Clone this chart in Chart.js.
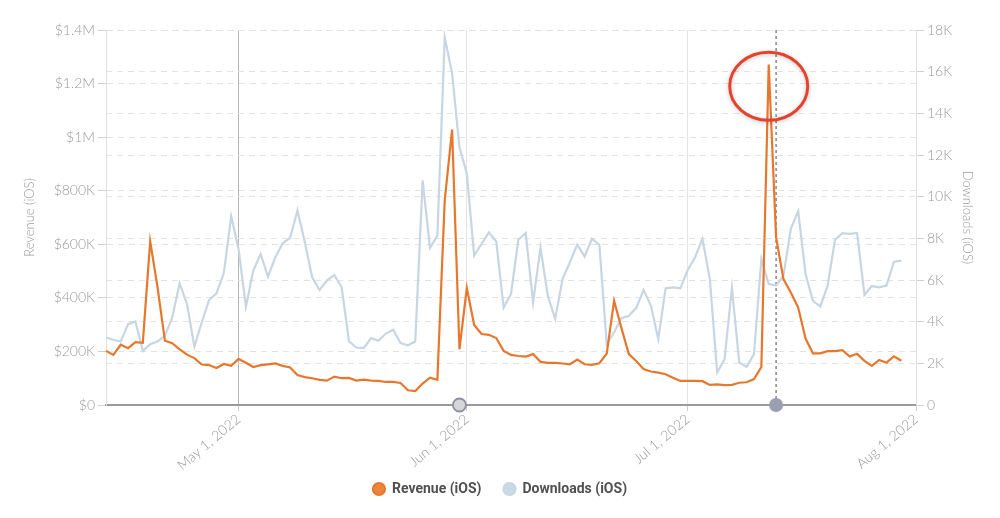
<!DOCTYPE html>
<html>
<head>
<meta charset="utf-8">
<script src="https://cdn.jsdelivr.net/npm/chart.js@4.4.0/dist/chart.umd.min.js"></script>
<style>
    html, body { margin: 0; padding: 0; background: #fff; }
    #wrap { width: 1000px; height: 518px; }
</style>
</head>
<body>
<div id="wrap"><canvas id="appChart"></canvas></div>
<script>
// Daily values, Apr 13 2022 .. Jul 30 2022
const revenue = [
    202000, 187000, 225000, 212000, 235000, 232000, 611000, 439000, 240000, 231000,
    208000, 188000, 175000, 151000, 149000, 138000, 153000, 146000, 172000, 158000,
    142000, 149000, 152000, 155000, 146000, 140000, 112000, 104000, 100000, 94000,
    91000, 106000, 100000, 101000, 91000, 95000, 91000, 90000, 86000, 86000,
    82000, 55000, 52000, 80000, 102000, 94000, 764000, 1028000, 208000, 437000,
    299000, 265000, 262000, 250000, 202000, 187000, 183000, 181000, 190000, 161000,
    157000, 157000, 155000, 152000, 170000, 152000, 150000, 156000, 192000, 389000,
    287000, 190000, 164000, 134000, 125000, 121000, 115000, 102000, 90000, 90000,
    90000, 89000, 75000, 77000, 74000, 75000, 83000, 85000, 97000, 142000,
    1271000, 626000, 470000, 420000, 364000, 248000, 193000, 193000, 201000, 201000,
    205000, 181000, 191000, 165000, 146000, 168000, 158000, 182000, 165000
];
const downloads = [
    3240, 3130, 3050, 3880, 4010, 2600, 2920, 3050, 3320, 4200,
    5840, 4850, 2810, 3960, 5040, 5360, 6320, 9060, 7490, 4720,
    6450, 7250, 6160, 7090, 7760, 8020, 9340, 7810, 6130, 5520,
    5970, 6240, 5650, 3050, 2760, 2730, 3210, 3080, 3430, 3610,
    2970, 2870, 3050, 10780, 7540, 8130, 17650, 15920, 12380, 11100,
    7170, 7730, 8290, 7850, 4680, 5330, 7930, 8250, 4920, 7540,
    5250, 4130, 6050, 6850, 7700, 7120, 7980, 7690, 2920, 3480,
    4170, 4280, 4650, 5520, 4770, 3160, 5600, 5650, 5600, 6480,
    7090, 7980, 6050, 1560, 2200, 5620, 2040, 1830, 2440, 7010,
    5810, 5730, 6210, 8460, 9300, 6290, 5000, 4730, 5730, 7930,
    8250, 8210, 8260, 5280, 5710, 5650, 5730, 6880, 6930
];
const monthTicks = ['May 1, 2022', 'Jun 1, 2022', 'Jul 1, 2022', 'Aug 1, 2022'];
const revenueTicks = [0, 200000, 400000, 600000, 800000, 1000000, 1200000, 1400000];
const downloadTicks = [0, 2000, 4000, 6000, 8000, 10000, 12000, 14000, 16000, 18000];

// Day labels for the x axis (axis runs to Aug 1)
const monthNames = ['Jan', 'Feb', 'Mar', 'Apr', 'May', 'Jun', 'Jul', 'Aug', 'Sep', 'Oct', 'Nov', 'Dec'];
const days = [];
for (let d = new Date(Date.UTC(2022, 3, 13)); d <= new Date(Date.UTC(2022, 7, 1)); d.setUTCDate(d.getUTCDate() + 1)) {
    days.push(monthNames[d.getUTCMonth()] + ' ' + d.getUTCDate() + ', ' + d.getUTCFullYear());
}

const selectedDay = 'Jul 13, 2022';
const markedDay = 'May 31, 2022';
const peakDay = 'Jul 12, 2022';

const thinFont = "'Lato', 'Open Sans', sans-serif";
const boldFont = "'Roboto', 'Liberation Sans', sans-serif";

function fmtMoney(v) {
    if (v === 0) return '$0';
    if (v >= 1000000) return '$' + (v / 1000000) + 'M';
    return '$' + (v / 1000) + 'K';
}

// Crosshair, markers and the red circle round the peak
const markers = {
    id: 'markers',
    afterLayout(chart) {
        // pull the legend up a little, keeping its item spacing
        chart.legend.top -= 11;
        chart.legend.bottom -= 11;
    },
    beforeDatasetsDraw(chart) {
        const ctx = chart.ctx, area = chart.chartArea;
        const x = chart.scales.x.getPixelForValue(days.indexOf(selectedDay));
        ctx.save();
        ctx.strokeStyle = '#777';
        ctx.lineWidth = 1.3;
        ctx.setLineDash([3, 3]);
        ctx.beginPath();
        ctx.moveTo(x, area.top);
        ctx.lineTo(x, area.bottom);
        ctx.stroke();
        ctx.restore();
    },
    afterDraw(chart) {
        const ctx = chart.ctx, area = chart.chartArea;
        const xs = chart.scales.x, ys = chart.scales.y;
        ctx.save();
        // dot under the selected day
        ctx.beginPath();
        ctx.arc(xs.getPixelForValue(days.indexOf(selectedDay)), area.bottom, 7, 0, Math.PI * 2);
        ctx.fillStyle = '#9a9fb1';
        ctx.fill();
        // marker under end of May
        ctx.beginPath();
        ctx.arc(xs.getPixelForValue(days.indexOf(markedDay)), area.bottom, 6.5, 0, Math.PI * 2);
        ctx.fillStyle = '#d6d6d6';
        ctx.fill();
        ctx.lineWidth = 1.8;
        ctx.strokeStyle = '#8d90a0';
        ctx.stroke();
        // red ellipse
        const ex = xs.getPixelForValue(days.indexOf(peakDay));
        const ey = ys.getPixelForValue(1190000);
        ctx.shadowColor = 'rgba(0,0,0,0.25)';
        ctx.shadowBlur = 4;
        ctx.shadowOffsetY = 1;
        ctx.beginPath();
        ctx.ellipse(ex, ey, 39, 34, 0, 0, Math.PI * 2);
        ctx.strokeStyle = '#e5412b';
        ctx.lineWidth = 3;
        ctx.stroke();
        ctx.restore();
    }
};

function isMonthStart(i) {
    return monthTicks.includes(days[i]);
}

const ctx = document.getElementById('appChart');
new Chart(ctx, {
    type: 'line',
    data: {
        labels: days,
        datasets: [
            {
                label: 'Revenue (iOS)',
                data: revenue,
                yAxisID: 'y',
                borderColor: '#e8772e',
                backgroundColor: '#e8873c',
                borderWidth: 2.2,
                pointRadius: 0,
                tension: 0
            },
            {
                label: 'Downloads (iOS)',
                data: downloads,
                yAxisID: 'y2',
                borderColor: '#c8d6e3',
                backgroundColor: '#ccd9e5',
                borderWidth: 2.2,
                pointRadius: 0,
                tension: 0
            }
        ]
    },
    options: {
        responsive: true,
        maintainAspectRatio: false,
        animation: false,
        layout: { padding: { top: 30, bottom: 1 } },
        plugins: {
            legend: {
                position: 'bottom',
                labels: {
                    usePointStyle: true,
                    pointStyle: 'circle',
                    boxWidth: 12,
                    boxHeight: 8.5,
                    padding: 22,
                    color: '#505050',
                    font: { family: boldFont, size: 14, weight: 'bold' }
                }
            },
            tooltip: { enabled: false }
        },
        scales: {
            x: {
                type: 'category',
                offset: false,
                border: { color: '#9a9a9a', width: 2 },
                grid: {
                    color: function(c) {
                        if (c.index === 0) return '#e2e2e2';
                        if (days[c.index] === 'May 1, 2022') return '#b5b5b5';
                        return isMonthStart(c.index) ? '#e4e4e4' : 'transparent';
                    },
                    tickColor: function(c) {
                        return isMonthStart(c.index) ? '#cfcfcf' : 'transparent';
                    },
                    tickLength: 6
                },
                ticks: {
                    autoSkip: false,
                    maxRotation: 40,
                    minRotation: 40,
                    padding: 0,
                    color: '#9a9a9a',
                    font: { family: thinFont, size: 14, weight: '300' },
                    callback: function(value) {
                        const lbl = this.getLabelForValue(value);
                        return monthTicks.includes(lbl) ? lbl : '';
                    }
                },
                afterFit: function(scale) { scale.height = 66; }
            },
            y: {
                position: 'left',
                min: 0,
                max: 1400000,
                border: { color: '#e0e0e0', dash: [6, 5] },
                grid: {
                    color: '#e3e3e3',
                    tickBorderDash: [],
                    tickColor: '#d0d0d0',
                    tickLength: 8
                },
                afterBuildTicks: function(scale) {
                    scale.ticks = revenueTicks.map(v => ({ value: v }));
                },
                ticks: {
                    color: '#9a9a9a',
                    padding: 3,
                    font: { family: thinFont, size: 14, weight: '300' },
                    callback: fmtMoney
                },
                title: {
                    display: true,
                    text: 'Revenue (iOS)',
                    color: '#9a9a9a',
                    padding: { top: 22, bottom: 0 },
                    font: { family: thinFont, size: 13, weight: '300' }
                },
                afterFit: function(scale) { scale.width = 106; }
            },
            y2: {
                position: 'right',
                min: 0,
                max: 18000,
                border: { color: '#e0e0e0', dash: [6, 5] },
                grid: {
                    color: '#e3e3e3',
                    tickBorderDash: [],
                    tickColor: '#d0d0d0',
                    tickLength: 8
                },
                afterBuildTicks: function(scale) {
                    scale.ticks = downloadTicks.map(v => ({ value: v }));
                },
                ticks: {
                    color: '#9a9a9a',
                    padding: 3,
                    font: { family: thinFont, size: 14, weight: '300' },
                    callback: function(v) { return v === 0 ? '0' : (v / 1000) + 'K'; }
                },
                title: {
                    display: true,
                    text: 'Downloads (iOS)',
                    color: '#9a9a9a',
                    padding: { top: 25, bottom: 0 },
                    font: { family: thinFont, size: 13, weight: '300' }
                },
                afterFit: function(scale) { scale.width = 84; }
            }
        }
    },
    plugins: [markers]
});
</script>
</body>
</html>
